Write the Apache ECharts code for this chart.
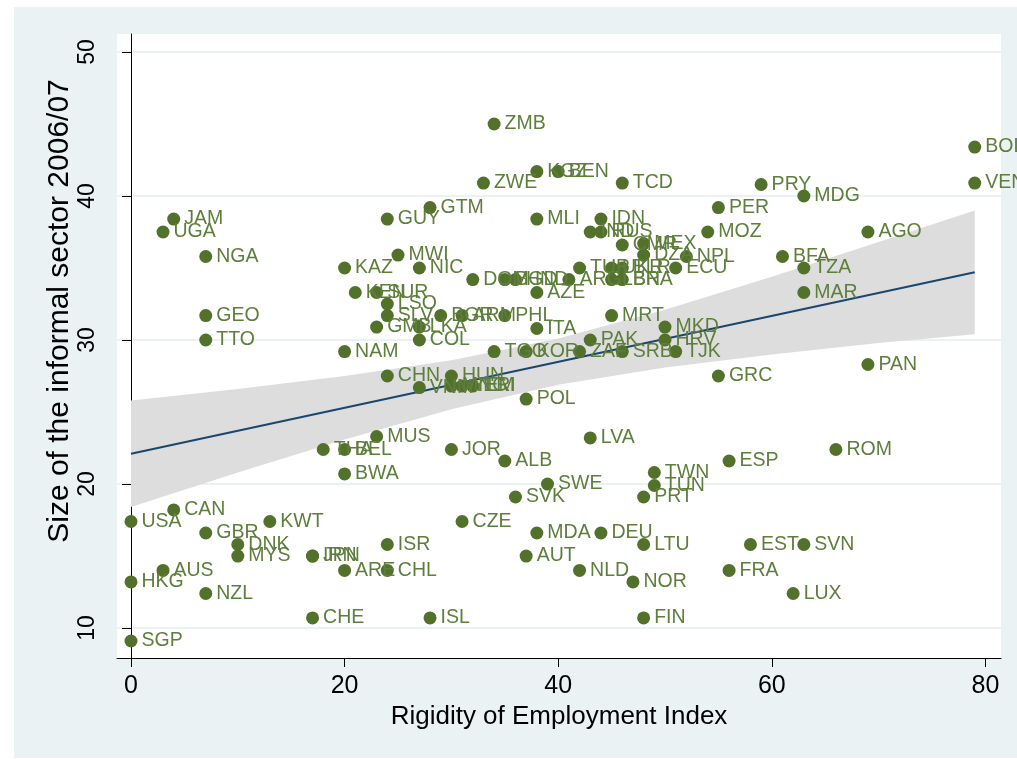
<!DOCTYPE html>
<html>
<head>
<meta charset="utf-8">
<script src="https://cdn.jsdelivr.net/npm/echarts@6/dist/echarts.min.js"></script>
<style>
  html, body { margin: 0; padding: 0; background: #fff; }
  #chartDiv { width: 1017px; height: 759px; }
</style>
</head>
<body>
<div id="chartDiv"></div>
<script>
// country codes, rigidity of employment index, informal sector size 2006/07
var countries = ['ZMB','KGZ','BEN','ZWE','TCD','BOL','VEN','PRY','MDG','PER',
  'GTM','JAM','GUY','MLI','IDN','UGA','IND','RUS','MOZ','AGO',
  'CMR','MEX','NGA','MWI','DZA','NPL','BFA','KAZ','NIC','TUR',
  'UKR','BLR','ECU','TZA','DOM','BGD','HND','ARG','LBN','BRA',
  'KEN','SUR','AZE','MAR','LSO','GEO','SLV','BGR','ARM','PHL',
  'MRT','GMB','LKA','ITA','MKD','TTO','COL','PAK','HRV','NAM',
  'TGO','KOR','ZAF','SRB','TJK','PAN','CHN','HUN','GRC','VNM',
  'MNG','YEM','ERI','POL','MUS','LVA','THA','BEL','JOR','ROM',
  'ALB','ESP','BWA','TWN','SWE','TUN','SVK','PRT','CAN','USA',
  'KWT','CZE','GBR','MDA','DEU','DNK','ISR','LTU','EST','SVN',
  'MYS','JPN','IRN','AUT','AUS','ARE','CHL','NLD','FRA','HKG',
  'NOR','NZL','LUX','CHE','ISL','FIN','SGP'];
var rigidity = [34,38,40,33,46,79,79,59,63,55,
  28,4,24,38,44,3,43,44,54,69,
  46,48,7,25,48,52,61,20,27,42,
  45,46,51,63,32,35,36,41,45,46,
  21,23,38,63,24,7,24,29,31,35,
  45,23,27,38,50,7,27,43,50,20,
  34,37,42,46,51,69,24,30,55,27,
  30,31,32,37,23,43,18,20,30,66,
  35,56,20,49,39,49,36,48,4,0,
  13,31,7,38,44,10,24,48,58,63,
  10,17,17,37,3,20,24,42,56,0,
  47,7,62,17,28,48,0];
var informal = [45.0,41.7,41.7,40.9,40.9,43.4,40.9,40.8,40.0,39.2,
  39.2,38.4,38.4,38.4,38.4,37.5,37.5,37.5,37.5,37.5,
  36.6,36.7,35.8,35.9,35.9,35.8,35.8,35.0,35.0,35.0,
  35.0,35.0,35.0,35.0,34.2,34.2,34.2,34.2,34.2,34.2,
  33.3,33.3,33.3,33.3,32.5,31.7,31.7,31.7,31.7,31.7,
  31.7,30.9,30.9,30.8,30.9,30.0,30.0,30.0,30.0,29.2,
  29.2,29.2,29.2,29.2,29.2,28.3,27.5,27.5,27.5,26.7,
  26.8,26.8,26.8,25.9,23.3,23.2,22.4,22.4,22.4,22.4,
  21.6,21.6,20.7,20.8,20.0,19.9,19.1,19.1,18.2,17.4,
  17.4,17.4,16.6,16.6,16.6,15.8,15.8,15.8,15.8,15.8,
  15.0,15.0,15.0,15.0,14.0,14.0,14.0,14.0,14.0,13.2,
  13.2,12.4,12.4,10.7,10.7,10.7,9.1];

// fitted line and 95% CI band
var fitX = [0, 79];
var fitY = [22.1, 34.7];
var bandX = [0, 10, 20, 30, 40, 50, 60, 70, 79];
var bandUpper = [25.8, 26.6, 27.5, 28.6, 30.1, 32.1, 34.4, 36.8, 39.0];
var bandLower = [18.4, 20.8, 23.1, 25.2, 26.9, 28.1, 29.0, 29.8, 30.4];

var xTicks = [0, 20, 40, 60, 80];
var yTicks = [10, 20, 30, 40, 50];

var font = 'Liberation Sans, Arial, sans-serif';
var bgColor = '#EAF2F3';

var points = [];
for (var i = 0; i < countries.length; i++) {
  points.push({ name: countries[i], value: [rigidity[i], informal[i]] });
}

var chart = echarts.init(document.getElementById('chartDiv'));
chart.setOption({
  backgroundColor: '#fff',
  animation: false,
  textStyle: { fontFamily: font },
  graphic: [{
    type: 'rect', z: -10, silent: true,
    shape: { x: 14, y: 7, width: 1003, height: 751 },
    style: { fill: bgColor }
  }, {
    // y axis title, placed like Stata does (slightly above plot centre)
    type: 'text', silent: true, x: 60, y: 311, rotation: Math.PI / 2,
    style: {
      text: 'Size of the informal sector 2006/07', fill: '#000',
      font: '30px ' + font, align: 'center', verticalAlign: 'middle'
    }
  }],
  grid: { left: 117, right: 16, top: 34, bottom: 101, show: true, backgroundColor: '#fff', borderWidth: 0 },
  xAxis: {
    type: 'value', min: -1.31, max: 81.46,
    name: 'Rigidity of Employment Index', nameLocation: 'middle', nameGap: 45,
    nameTextStyle: { color: '#000', fontSize: 26, fontFamily: font },
    axisLine: { show: true, lineStyle: { color: '#000', width: 1 } },
    axisTick: { show: true, length: 9, customValues: xTicks, lineStyle: { color: '#000' } },
    axisLabel: { customValues: xTicks, margin: 16, color: '#000', fontSize: 25, fontFamily: font },
    splitLine: { show: false }
  },
  yAxis: {
    type: 'value', min: 7.92, max: 51.25,
    axisLine: { show: true, lineStyle: { color: '#000', width: 1 } },
    axisTick: { show: true, length: 9, customValues: yTicks, lineStyle: { color: '#000' } },
    axisLabel: { customValues: yTicks, rotate: 90, margin: 18, color: '#000', fontSize: 23, fontFamily: font },
    splitLine: { show: true, lineStyle: { color: bgColor, width: 2 } }
  },
  series: [{
    type: 'custom', z: 1, silent: true,
    data: [[bandX[0], bandLower[0]]],
    renderItem: function (params, api) {
      var pts = [];
      for (var j = 0; j < bandX.length; j++) pts.push(api.coord([bandX[j], bandUpper[j]]));
      for (var k = bandX.length - 1; k >= 0; k--) pts.push(api.coord([bandX[k], bandLower[k]]));
      return { type: 'polygon', shape: { points: pts }, style: { fill: '#DDDDDD' } };
    }
  }, {
    type: 'line', z: 2, silent: true, symbol: 'none',
    data: [[fitX[0], fitY[0]], [fitX[1], fitY[1]]],
    lineStyle: { color: '#1A476F', width: 2 }
  }, {
    type: 'scatter', z: 3, symbolSize: 13,
    itemStyle: { color: '#52712B', opacity: 1 },
    data: points,
    label: {
      show: true, position: 'right', distance: 4, formatter: '{b}',
      color: '#5E7E3C', fontSize: 19.5, fontFamily: font
    }
  }]
});
</script>
</body>
</html>
